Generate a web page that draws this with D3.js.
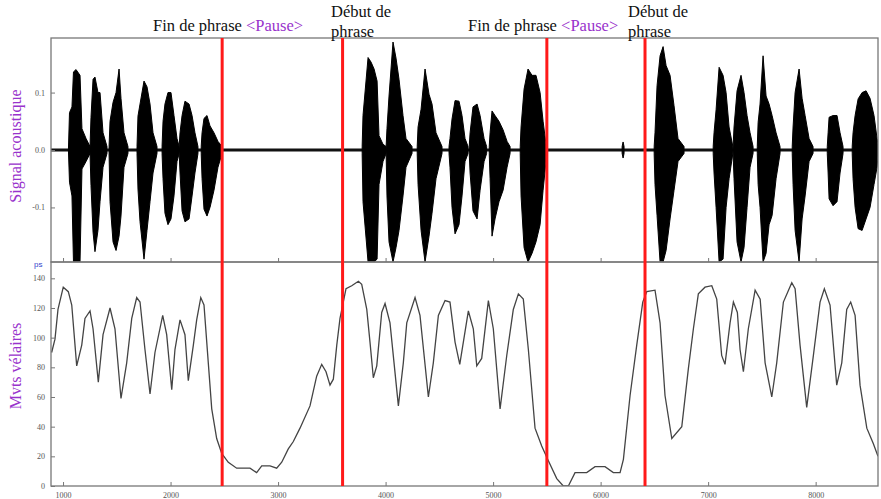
<!DOCTYPE html>
<html><head><meta charset="utf-8">
<script src="https://cdn.jsdelivr.net/npm/d3@7"></script>
<style>body{margin:0;background:#fff}svg{display:block}</style>
</head><body><svg id="c" width="881" height="499"></svg>
<script>
// ---------- data ----------
const timeTicks = [1000, 2000, 3000, 4000, 5000, 6000, 7000, 8000];
const acousticTicks = [-0.1, 0.0, 0.1];
const velumTicks = [0, 20, 40, 60, 80, 100, 120, 140];
const boundaries = [2480, 3600, 5500, 6413];

// velum movement curve (time, value)
const velumT = [894,925,953,1002,1049,1081,1127,1174,1204,1251,1279,1328,1372,1437,1483,1539,1592,1639,1685,1716,1762,1809,1855,1927,1964,2011,2041,2088,2134,2165,2212,2243,2281,2311,2351,2383,2429,2476,2537,2615,2739,2801,2848,2925,2987,3034,3095,3142,3204,3297,3359,3406,3446,3483,3514,3546,3576,3632,3685,3747,3778,3825,3855,3886,3918,3964,3995,4041,4119,4165,4197,4274,4320,4398,4444,4491,4553,4599,4646,4690,4770,4816,4848,4894,4956,5002,5065,5127,5188,5235,5281,5328,5390,5452,5514,5592,5653,5700,5762,5871,5948,6041,6118,6181,6212,6274,6336,6392,6429,6506,6553,6599,6662,6755,6816,6863,6909,6971,7034,7080,7126,7157,7204,7235,7272,7297,7328,7374,7437,7484,7530,7592,7638,7700,7778,7809,7855,7917,7979,8041,8081,8134,8196,8243,8289,8326,8367,8413,8476,8537,8580];
const velumV = [90,99,119,134,131,122,81,95,113,118,106,70,102,120,106,59,83,113,127,124,92,62,90,115,102,65,92,112,102,71,95,112,127,122,83,52,32,22,16,12,12,9,13.5,13.5,12,16,25,30,39,54,74,82,77,68,72,95,113,133,135,138,136,119,97,73,81,117,123,110,54,83,110,127,115,60,83,115,125,124,97,82,118,106,81,86,125,106,52,88,119,129.5,126,92,39,27,17,5,0,0,9,9,13,13,9,9,18,61,95,124,131,132,110,61,32,40,79,106,129.5,134,135,126,88,82,110,124,117,92,77,106,132,126,83,60,83,124,137,133,95,53,88,124,133,122,68,83,119,124,115,68,39,28.5,20];

// acoustic signal envelopes per voiced burst: [time, upper, lower]
const bursts = [
 [[1050,0,0],[1060,0.065,-0.056],[1083,0.075,-0.08],[1097,0.136,-0.195],[1121,0.14,-0.195],[1158,0.13,-0.195],[1176,0.037,-0.033],[1214,0.02,-0.02],[1251,0.006,-0.006]],
 [[1251,0.006,-0.006],[1260,0.057,-0.062],[1279,0.123,-0.143],[1297,0.127,-0.177],[1325,0.10,-0.14],[1344,0.10,-0.09],[1372,0.03,-0.03],[1409,0.006,-0.006]],
 [[1428,0.006,-0.006],[1437,0.05,-0.09],[1465,0.083,-0.16],[1493,0.1,-0.175],[1521,0.141,-0.15],[1539,0.09,-0.115],[1567,0.03,-0.03],[1604,0.006,-0.006]],
 [[1688,0.006,-0.006],[1697,0.059,-0.068],[1716,0.08,-0.125],[1753,0.12,-0.19],[1781,0.11,-0.14],[1809,0.08,-0.09],[1837,0.03,-0.04],[1874,0.006,-0.006]],
 [[1921,0.006,-0.006],[1930,0.05,-0.05],[1948,0.08,-0.11],[1976,0.10,-0.13],[2004,0.10,-0.12],[2032,0.06,-0.08],[2060,0.02,-0.02],[2080,0.006,-0.006]],
 [[2080,0.006,-0.006],[2088,0.03,-0.04],[2107,0.06,-0.106],[2134,0.085,-0.125],[2172,0.08,-0.12],[2200,0.06,-0.08],[2227,0.03,-0.04],[2255,0.006,-0.006]],
 [[2285,0.006,-0.006],[2293,0.03,-0.05],[2311,0.055,-0.103],[2339,0.06,-0.115],[2367,0.042,-0.1],[2404,0.03,-0.07],[2441,0.015,-0.03],[2479,0.006,-0.006]],
 [[3782,0.006,-0.006],[3790,0.06,-0.09],[3837,0.161,-0.195],[3865,0.153,-0.195],[3893,0.141,-0.195],[3921,0.12,-0.19],[3939,0.025,-0.06],[3976,0.01,-0.02],[4005,0.006,-0.006]],
 [[4005,0.006,-0.006],[4013,0.037,-0.08],[4032,0.094,-0.16],[4069,0.188,-0.195],[4097,0.16,-0.17],[4125,0.123,-0.14],[4162,0.06,-0.08],[4190,0.02,-0.03],[4246,0.006,-0.006]],
 [[4294,0.006,-0.006],[4302,0.04,-0.06],[4330,0.071,-0.14],[4367,0.141,-0.195],[4404,0.097,-0.15],[4432,0.08,-0.11],[4469,0.03,-0.05],[4525,0.006,-0.006]],
 [[4590,0.006,-0.006],[4599,0.02,-0.03],[4618,0.054,-0.1],[4646,0.086,-0.146],[4683,0.085,-0.13],[4711,0.06,-0.08],[4739,0.02,-0.02],[4767,0.006,-0.006]],
 [[4778,0.006,-0.006],[4786,0.03,-0.04],[4813,0.075,-0.106],[4851,0.08,-0.12],[4879,0.06,-0.07],[4916,0.02,-0.02],[4940,0.006,-0.006]],
 [[4964,0.006,-0.006],[4972,0.03,-0.05],[4990,0.068,-0.15],[5018,0.06,-0.12],[5055,0.05,-0.09],[5093,0.035,-0.07],[5130,0.015,-0.03],[5158,0.006,-0.006]],
 [[5252,0.006,-0.006],[5260,0.04,-0.08],[5288,0.106,-0.17],[5325,0.141,-0.195],[5362,0.13,-0.18],[5399,0.13,-0.16],[5437,0.1,-0.13],[5465,0.05,-0.07],[5492,0.01,-0.02],[5500,0.006,-0.006]],
 [[6200,0.006,-0.006],[6209,0.014,-0.014],[6218,0.006,-0.006]],
 [[6498,0.006,-0.006],[6506,0.03,-0.06],[6525,0.112,-0.114],[6553,0.164,-0.195],[6581,0.18,-0.195],[6609,0.147,-0.175],[6646,0.13,-0.12],[6683,0.077,-0.07],[6720,0.02,-0.02],[6776,0.006,-0.006]],
 [[7047,0.006,-0.006],[7055,0.03,-0.04],[7074,0.07,-0.1],[7102,0.144,-0.195],[7139,0.13,-0.19],[7167,0.1,-0.1],[7195,0.04,-0.05],[7230,0.006,-0.006]],
 [[7232,0.006,-0.006],[7241,0.04,-0.05],[7269,0.103,-0.16],[7306,0.13,-0.195],[7334,0.1,-0.17],[7362,0.06,-0.1],[7390,0.03,-0.03],[7418,0.006,-0.006]],
 [[7457,0.006,-0.006],[7465,0.048,-0.06],[7483,0.08,-0.1],[7511,0.164,-0.195],[7539,0.094,-0.18],[7567,0.08,-0.13],[7595,0.06,-0.114],[7632,0.03,-0.05],[7669,0.006,-0.006]],
 [[7782,0.006,-0.006],[7790,0.04,-0.06],[7809,0.1,-0.14],[7846,0.141,-0.195],[7874,0.09,-0.12],[7902,0.06,-0.08],[7939,0.02,-0.02],[7976,0.006,-0.006]],
 [[8108,0.006,-0.006],[8116,0.03,-0.04],[8125,0.057,-0.085],[8162,0.06,-0.097],[8199,0.06,-0.09],[8227,0.03,-0.04],[8255,0.006,-0.006]],
 [[8340,0.006,-0.006],[8348,0.03,-0.05],[8367,0.06,-0.1],[8395,0.089,-0.137],[8432,0.1,-0.14],[8469,0.103,-0.12],[8506,0.09,-0.1],[8543,0.06,-0.06],[8571,0.02,-0.03],[8580,0.01,-0.01]]
];

// annotation labels (time at left edge of text)
const finLabelT = [1837, 4767];
const debutLabelT = [3493, 6255];

// ---------- drawing ----------
const svg = d3.select('#c');
const L = 51, R = 878, T1 = 38, B1 = 262, T2 = 262, B2 = 486;
const x = d3.scaleLinear().domain([888, 8580]).range([L, R]);
const yTop = d3.scaleLinear().domain([-0.195, 0.195]).range([B1, T1]);
const yBot = d3.scaleLinear().domain([0, 151]).range([B2, T2]);

const defs = svg.append('defs');
defs.append('clipPath').attr('id', 'clipTop').append('rect').attr('x', L).attr('y', T1).attr('width', R - L).attr('height', B1 - T1);
defs.append('clipPath').attr('id', 'clipBot').append('rect').attr('x', L).attr('y', T2).attr('width', R - L).attr('height', B2 - T2);

// waveform
const gTop = svg.append('g').attr('clip-path', 'url(#clipTop)');
gTop.append('line').attr('x1', L).attr('x2', R).attr('y1', yTop(0)).attr('y2', yTop(0))
  .attr('stroke', '#111').attr('stroke-width', 3);
const area = d3.area().x(d => x(d[0])).y0(d => yTop(d[2])).y1(d => yTop(d[1]));
gTop.selectAll('path.burst').data(bursts).join('path').attr('class', 'burst')
  .attr('d', area).attr('fill', '#000').attr('stroke', '#000').attr('stroke-width', 1);

// velum curve
const gBot = svg.append('g').attr('clip-path', 'url(#clipBot)');
const velum = velumT.map((t, i) => [t, velumV[i]]);
gBot.append('path').datum(velum)
  .attr('d', d3.line().x(d => x(d[0])).y(d => yBot(d[1])))
  .attr('fill', 'none').attr('stroke', '#444').attr('stroke-width', 1.3);

// frames
[[T1, B1], [T2, B2]].forEach(([a, b]) => {
  svg.append('rect').attr('x', L).attr('y', a).attr('width', R - L).attr('height', b - a)
    .attr('fill', 'none').attr('stroke', '#777').attr('stroke-width', 1.3);
});

// axes
const tickStyle = g => {
  g.select('.domain').remove();
  g.selectAll('line').attr('stroke', '#777');
  g.selectAll('text').attr('fill', '#555').style('font', '8px "Liberation Serif", serif');
};
svg.append('g').attr('transform', `translate(${L},0)`)
  .call(d3.axisLeft(yTop).tickValues(acousticTicks).tickFormat(d => d.toFixed(1)).tickSizeInner(-4).tickPadding(6))
  .call(tickStyle);
svg.append('g').attr('transform', `translate(${L},0)`)
  .call(d3.axisLeft(yBot).tickValues(velumTicks).tickFormat(d3.format('d')).tickSizeInner(-4).tickPadding(6))
  .call(tickStyle);
svg.append('g').attr('transform', `translate(0,${B2})`)
  .call(d3.axisBottom(x).tickValues(timeTicks).tickFormat(d3.format('d')).tickSizeInner(-4).tickPadding(6))
  .call(tickStyle);
svg.append('g').attr('transform', `translate(0,${B1})`)
  .call(d3.axisBottom(x).tickValues(timeTicks).tickFormat('').tickSizeInner(-4))
  .call(tickStyle);

// unit label
svg.append('text').attr('x', 34).attr('y', 267).text('ps')
  .attr('fill', '#3344cc').style('font', '8px "Liberation Sans", sans-serif');

// boundaries
svg.selectAll('line.bd').data(boundaries).join('line').attr('class', 'bd')
  .attr('x1', d => x(d)).attr('x2', d => x(d)).attr('y1', T1).attr('y2', B2)
  .attr('stroke', '#ff1a1a').attr('stroke-width', 3);

// y titles
const purple = '#9933cc';
svg.append('text').attr('transform', 'translate(21,146) rotate(-90)').attr('text-anchor', 'middle')
  .attr('fill', purple).style('font', '16px "Liberation Serif", serif').text('Signal acoustique');
svg.append('text').attr('transform', 'translate(21,366) rotate(-90)').attr('text-anchor', 'middle')
  .attr('fill', purple).style('font', '16px "Liberation Serif", serif').text('Mvts vélaires');

// annotations
const font = '16.5px "Liberation Serif", serif';
finLabelT.forEach(t => {
  const tx = svg.append('text').attr('x', x(t)).attr('y', 31).style('font', font);
  tx.append('tspan').attr('fill', '#111').text('Fin de phrase ');
  tx.append('tspan').attr('fill', purple).text('<Pause>');
});
debutLabelT.forEach(t => {
  svg.append('text').attr('x', x(t)).attr('y', 17).style('font', font).attr('fill', '#111').text('Début de');
  svg.append('text').attr('x', x(t)).attr('y', 37).style('font', font).attr('fill', '#111').text('phrase');
});
</script></body></html>
